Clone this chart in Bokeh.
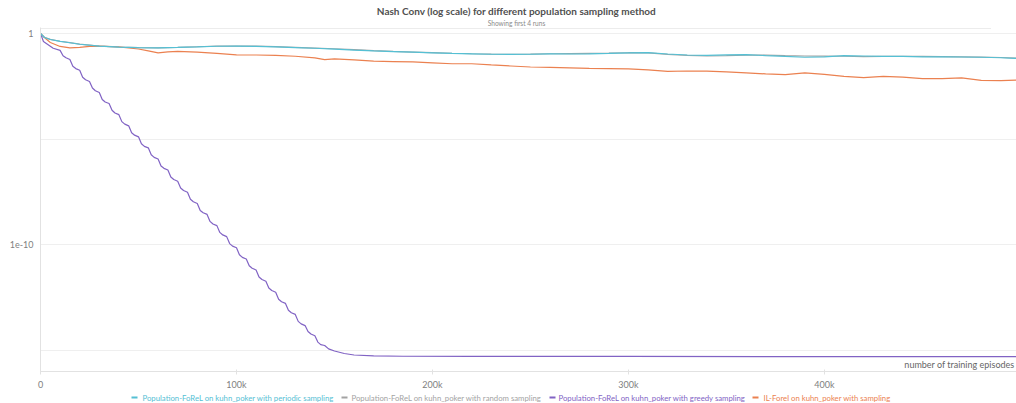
from bokeh.plotting import figure
from bokeh.layouts import column
from bokeh.models import Range1d, FixedTicker, Label
from bokeh.core.properties import value
from bokeh.embed import file_html
from bokeh.resources import INLINE

# ---- data -------------------------------------------------------------
# logging steps (thousands of training episodes) for the slowly converging runs
steps_k = [0, 2, 5, 10, 15, 20, 30, 40, 50, 60,
           70, 80, 90, 100, 110, 120, 130, 140, 150, 160,
           170, 180, 190, 200, 210, 220, 230, 240, 250, 260,
           270, 280, 290, 300, 310, 320, 330, 340, 350, 360,
           370, 380, 390, 400, 410, 420, 430, 440, 450, 460,
           470, 480, 490, 498]

periodic_nc = [1.0, 0.647, 0.52, 0.42, 0.364, 0.31, 0.25, 0.226, 0.214, 0.207,
               0.219, 0.233, 0.249, 0.252, 0.247, 0.233, 0.216, 0.2, 0.184, 0.165,
               0.15, 0.139, 0.13, 0.121, 0.114, 0.109, 0.104, 0.102, 0.104, 0.108,
               0.107, 0.109, 0.114, 0.121, 0.124, 0.107, 0.096, 0.092, 0.097, 0.1,
               0.09, 0.082, 0.075, 0.078, 0.09, 0.086, 0.082, 0.082, 0.079, 0.078,
               0.077, 0.075, 0.071, 0.066]

random_nc = [1.0, 0.66, 0.53, 0.43, 0.37, 0.315, 0.255, 0.23, 0.216, 0.21,
             0.222, 0.236, 0.25, 0.255, 0.25, 0.238, 0.222, 0.205, 0.19, 0.172,
             0.155, 0.142, 0.132, 0.124, 0.116, 0.11, 0.106, 0.104, 0.106, 0.11,
             0.112, 0.115, 0.118, 0.123, 0.12, 0.102, 0.092, 0.088, 0.09, 0.094,
             0.095, 0.09, 0.086, 0.085, 0.084, 0.08, 0.082, 0.084, 0.082, 0.08,
             0.078, 0.076, 0.073, 0.068]

ilforel_k = [0, 2, 5, 10, 15, 20, 25, 30, 40, 50,
             55, 60, 65, 70, 80, 90, 100, 110, 120, 130,
             140, 145, 150, 160, 170, 180, 190, 200, 210, 220,
             230, 240, 250, 260, 270, 280, 290, 300, 310, 320,
             330, 340, 350, 360, 370, 380, 390, 400, 410, 420,
             430, 440, 450, 460, 470, 480, 490, 498]

ilforel_nc = [1.0, 0.647, 0.376, 0.244, 0.207, 0.219, 0.244, 0.25, 0.231, 0.184,
              0.150, 0.12, 0.134, 0.142, 0.131, 0.114, 0.097, 0.096, 0.092, 0.084,
              0.07, 0.058, 0.063, 0.056, 0.049, 0.047, 0.045, 0.041, 0.037, 0.037,
              0.0325, 0.029, 0.026, 0.025, 0.0236, 0.0223, 0.0216, 0.021, 0.019, 0.0161,
              0.0168, 0.0165, 0.0153, 0.0137, 0.0123, 0.0113, 0.0137, 0.0116, 0.0094, 0.0082,
              0.0094, 0.0086, 0.0073, 0.0073, 0.0079, 0.0061, 0.0059, 0.0062]

# greedy sampling converges fast; values kept as log10(NashConv)
greedy_k = [0, 1.5, 5, 6.5, 10, 11.5, 13, 15, 16.5, 18,
            20, 21.5, 23, 25, 26.5, 28, 30, 31.5, 33, 35,
            36.5, 38, 40, 41.5, 43, 45, 46.5, 48, 50, 51.5,
            53, 55, 56.5, 58, 60, 61.5, 63, 65, 66.5, 68,
            70, 71.5, 73, 75, 76.5, 78, 80, 81.5, 83, 85,
            86.5, 88, 90, 91.5, 93, 95, 96.5, 98, 100, 101.5,
            103, 105, 106.5, 108, 110, 111.5, 113, 115, 116.5, 118,
            120, 121.5, 123, 125, 126.5, 128, 130, 131.5, 133, 135,
            136.5, 138, 140, 141.5, 143, 145, 147, 150, 155, 160,
            170, 185, 220, 300, 400, 498]

greedy_log10 = [0.0, -0.38, -0.60, -0.70, -0.80, -1.05, -1.15, -1.23, -1.55, -1.66,
                -1.74, -2.07, -2.19, -2.27, -2.58, -2.71, -2.79, -3.12, -3.24, -3.31,
                -3.63, -3.76, -3.84, -4.17, -4.29, -4.37, -4.70, -4.81, -4.89, -5.22,
                -5.34, -5.41, -5.74, -5.86, -5.94, -6.27, -6.38, -6.46, -6.79, -6.91,
                -6.99, -7.31, -7.43, -7.51, -7.84, -7.96, -8.04, -8.37, -8.48, -8.56,
                -8.89, -9.01, -9.09, -9.41, -9.53, -9.61, -9.94, -10.06, -10.14, -10.47,
                -10.59, -10.67, -10.99, -11.11, -11.19, -11.52, -11.64, -11.72, -12.04, -12.16,
                -12.24, -12.57, -12.69, -12.77, -13.09, -13.21, -13.29, -13.62, -13.74, -13.82,
                -14.10, -14.22, -14.30, -14.60, -14.72, -14.76, -14.92, -15.02, -15.14, -15.21,
                -15.25, -15.27, -15.28, -15.28, -15.29, -15.29]

x_ticks = [0, 100000, 200000, 300000, 400000]
x_tick_labels = ["0", "100k", "200k", "300k", "400k"]
y_ticks = [1e-15, 1e-10, 1e-5, 1.0]
y_tick_labels = ["", "1e-10", "", "1"]

series_names = [
    "Population-FoReL on kuhn_poker with periodic sampling",
    "Population-FoReL on kuhn_poker with random sampling",
    "Population-FoReL on kuhn_poker with greedy sampling",
    "IL-Forel on kuhn_poker with sampling",
]

# ---- styling ----------------------------------------------------------
TEAL = "#55c0d4"
GREY = "#a3a3a3"
PURPLE = "#8163c4"
ORANGE = "#eb8150"
FONT = "Lato"
W = 1016
LEFT = 40


def bare(height, y_top, y_bottom):
    """A strip figure whose data units are page pixels (y grows downward),
    sharing the plot area's left border so columns line up."""
    f = figure(width=W, height=height, output_backend="svg", toolbar_location=None,
               x_range=Range1d(LEFT, W), y_range=Range1d(y_bottom, y_top),
               x_axis_location=None, y_axis_location=None,
               min_border=0, min_border_left=LEFT, min_border_right=0,
               min_border_top=0, min_border_bottom=0)
    f.outline_line_color = None
    f.grid.grid_line_color = None
    f.background_fill_color = "white"
    f.border_fill_color = "white"
    return f


# ---- header -----------------------------------------------------------
header = bare(27, 0, 27)
header.text(x=[516], y=[10.5],
            text=["Nash Conv (log scale) for different population sampling method"],
            text_font=value(FONT), text_font_style="bold", text_font_size="10px",
            text_color="#505050", text_align="center", text_baseline="middle")
header.text(x=[516], y=[22.5], text=["Showing first 4 runs"],
            text_font=value(FONT), text_font_size="6.6px",
            text_color="#8a8a8a", text_align="center", text_baseline="middle")

# ---- main chart -------------------------------------------------------
p = figure(width=W, height=365, output_backend="svg", toolbar_location=None,
           y_axis_type="log",
           x_range=Range1d(0, 498000), y_range=Range1d(1.02e-16, 1.92),
           min_border_left=LEFT, min_border_right=0,
           min_border_top=0, min_border_bottom=20)
p.outline_line_color = None
p.background_fill_color = "white"
p.border_fill_color = "white"

xa = p.xaxis[0]
xa.ticker = FixedTicker(ticks=x_ticks, minor_ticks=[])
xa.major_label_overrides = {t: s for t, s in zip(x_ticks, x_tick_labels)}
xa.axis_line_color = "#e2e2e2"
xa.major_tick_line_color = "#e2e2e2"
xa.major_tick_in = 2
xa.major_tick_out = 3
xa.minor_tick_line_color = None
xa.major_label_standoff = 4
xa.major_label_text_font = FONT
xa.major_label_text_font_size = "9px"
xa.major_label_text_color = "#808080"

ya = p.yaxis[0]
ya.ticker = FixedTicker(ticks=y_ticks, minor_ticks=[])
ya.major_label_overrides = {t: s for t, s in zip(y_ticks, y_tick_labels)}
ya.axis_line_color = "#e2e2e2"
ya.major_tick_line_color = None
ya.minor_tick_line_color = None
ya.major_tick_out = 0
ya.major_tick_in = 0
ya.major_label_standoff = 7
ya.major_label_text_font = FONT
ya.major_label_text_font_size = "9px"
ya.major_label_text_color = "#808080"

p.xgrid.grid_line_color = None
p.ygrid.grid_line_color = "#efefef"

# faint header separator along the top of the plot area
p.line([0, 485000], [1.72, 1.72], color="#ececec", line_width=1)

ep = lambda ks: [k * 1000 for k in ks]
p.line(ep(ilforel_k), ilforel_nc, color=ORANGE, line_width=1.2)
p.line(ep(greedy_k), [10 ** v for v in greedy_log10], color=PURPLE, line_width=1.2)
p.line(ep(steps_k), random_nc, color=GREY, line_width=1.2)
p.line(ep(steps_k), periodic_nc, color=TEAL, line_width=1.2)

p.add_layout(Label(x=497000, y=2.2e-16, text="number of training episodes",
                   text_font=FONT, text_font_size="9px", text_color="#666666",
                   text_align="right", text_baseline="middle"))

# ---- legend row -------------------------------------------------------
legend = bare(11, 392, 403)
legend_colors = [TEAL, GREY, PURPLE, ORANGE]
dash_x = [131, 341, 549, 752]
text_x = [142, 351, 558, 763]
legend.segment(x0=dash_x, y0=[396] * 4, x1=[d + 6 for d in dash_x], y1=[396] * 4,
               color=legend_colors, line_width=1.8)
legend.text(x=text_x, y=[396] * 4, text=series_names, text_color=legend_colors,
            text_font=value(FONT), text_font_size="7.75px",
            text_align="left", text_baseline="middle")

page = column(header, p, legend, spacing=0)
open("out.html", "w").write(file_html(page, INLINE))
